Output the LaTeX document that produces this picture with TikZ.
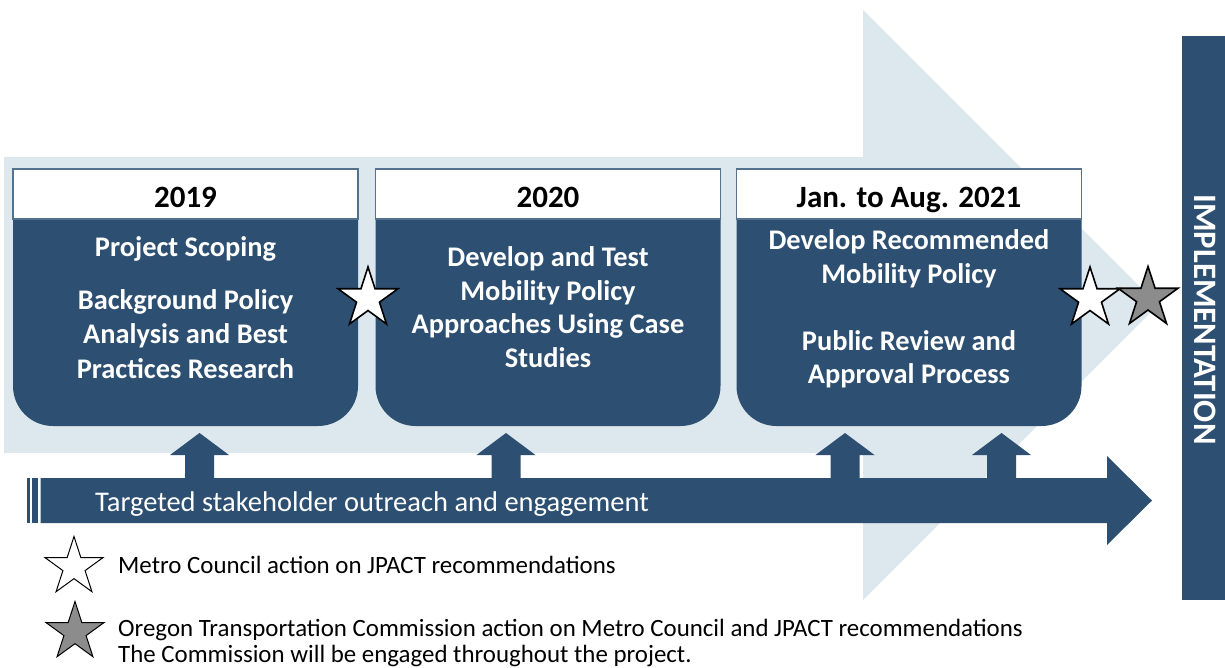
\documentclass[tikz,border=0pt]{standalone}
\usepackage{fontspec}
\setmainfont{Carlito}
\usetikzlibrary{shapes.geometric}
\definecolor{navy}{RGB}{45,79,114}
\definecolor{pale}{RGB}{221,231,238}
\definecolor{hdrline}{RGB}{84,113,142}
\definecolor{stargray}{RGB}{140,140,140}
\tikzset{
  phasebody/.style={fill=navy, draw=none, rounded corners=40pt, minimum width=345pt, minimum height=257pt, inner sep=0pt},
  phasehead/.style={fill=white, draw=hdrline, line width=1.2pt, minimum width=345pt, minimum height=50pt, inner sep=0pt,
    text height=26pt, text depth=0pt, font=\fontsize{31}{36}\selectfont\bfseries},
  bodytxt/.style={text=white, anchor=base, inner sep=0pt, font=\fontsize{28.4}{34}\selectfont\bfseries},
  bartxt/.style={text=white, anchor=base west, inner sep=0pt, font=\fontsize{28.5}{32}\selectfont},
  legtxt/.style={text=black, anchor=base west, inner sep=0pt, font=\fontsize{24.9}{28}\selectfont},
  starshape/.style={star, star points=5, star point ratio=2.618, inner sep=0pt, draw=black},
  boxstar/.style={starshape, minimum size=63pt, line width=1.6pt},
  legstar/.style={starshape, minimum size=61pt, line width=1.0pt},
  navyfill/.style={fill=navy, draw=none},
  implbar/.style={fill=navy, draw=none, minimum width=43pt, minimum height=564pt, inner sep=0pt},
  impltxt/.style={text=white, rotate=-90, inner sep=0pt, font=\fontsize{32.7}{36}\selectfont\bfseries},
}
\begin{document}
\begin{tikzpicture}[x=1pt,y=-1pt]
\useasboundingbox (0,0) rectangle (1225,667);
% light background arrow
\fill[pale] (4,157) -- (863,157) -- (863,10) -- (1158,305) -- (863,600) -- (863,453) -- (4,453) -- cycle;
% phase boxes
\node[phasebody] (b1) at (185.5,297.5) {};
\node[phasebody] (b2) at (548,297.5) {};
\node[phasebody] (b3) at (909,297.5) {};
\node[phasehead] (h1) at (185.5,194) {2019};
\node[phasehead] (h2) at (548,194) {2020};
\node[phasehead] (h3) at (909,194) {Jan. to Aug. 2021};
% box texts
\node[bodytxt] (t11) at (185.5,256) {Project Scoping};
\node[bodytxt] (t12) at (185.5,309) {Background Policy};
\node[bodytxt] (t13) at (185.5,343) {Analysis and Best};
\node[bodytxt] (t14) at (185.5,378) {Practices Research};
\node[bodytxt] (t21) at (548,266) {Develop and Test};
\node[bodytxt] (t22) at (548,300) {Mobility Policy};
\node[bodytxt] (t23) at (548,333) {Approaches Using Case};
\node[bodytxt] (t24) at (548,367) {Studies};
\node[bodytxt] (t31) at (909,249) {Develop Recommended};
\node[bodytxt] (t32) at (909,283) {Mobility Policy};
\node[bodytxt] (t33) at (909,350) {Public Review and};
\node[bodytxt] (t34) at (909,383) {Approval Process};
% up arrows
\foreach \c in {199.5,506,845,1001.5}{
  \fill[navyfill] (\c-14.5,480) -- (\c-14.5,455) -- (\c-29.5,455) -- (\c,433) -- (\c+29.5,455) -- (\c+14.5,455) -- (\c+14.5,480) -- cycle;
}
% horizontal striped arrow
\fill[navyfill] (40.5,478) -- (1107,478) -- (1107,456) -- (1152,500.5) -- (1107,545) -- (1107,523) -- (40.5,523) -- cycle;
\fill[navyfill] (26.5,478) rectangle (29.5,523);
\fill[navyfill] (32,478) rectangle (37.5,523);
\node[bartxt] (bar) at (95,511) {Targeted stakeholder outreach and engagement};
% stars on timeline
\node[boxstar, fill=white] (s1) at (368,298.5) {};
\node[boxstar, fill=white] (s2) at (1090,298.5) {};
\node[boxstar, fill=stargray] (s3) at (1148,298) {};
% implementation bar
\node[implbar] (impl) at (1203.5,318) {};
\node[impltxt] (impltext) at (1205,319.5) {IMPLEMENTATION};
% legend
\node[legstar, fill=white] (ls1) at (74,567) {};
\node[legstar, fill=stargray] (ls2) at (75,632) {};
\node[legtxt] (l1) at (118,573) {Metro Council action on JPACT recommendations};
\node[legtxt] (l2) at (118,636) {Oregon Transportation Commission action on Metro Council and JPACT recommendations};
\node[legtxt] (l3) at (118,662) {The Commission will be engaged throughout the project.};
\end{tikzpicture}
\end{document}
